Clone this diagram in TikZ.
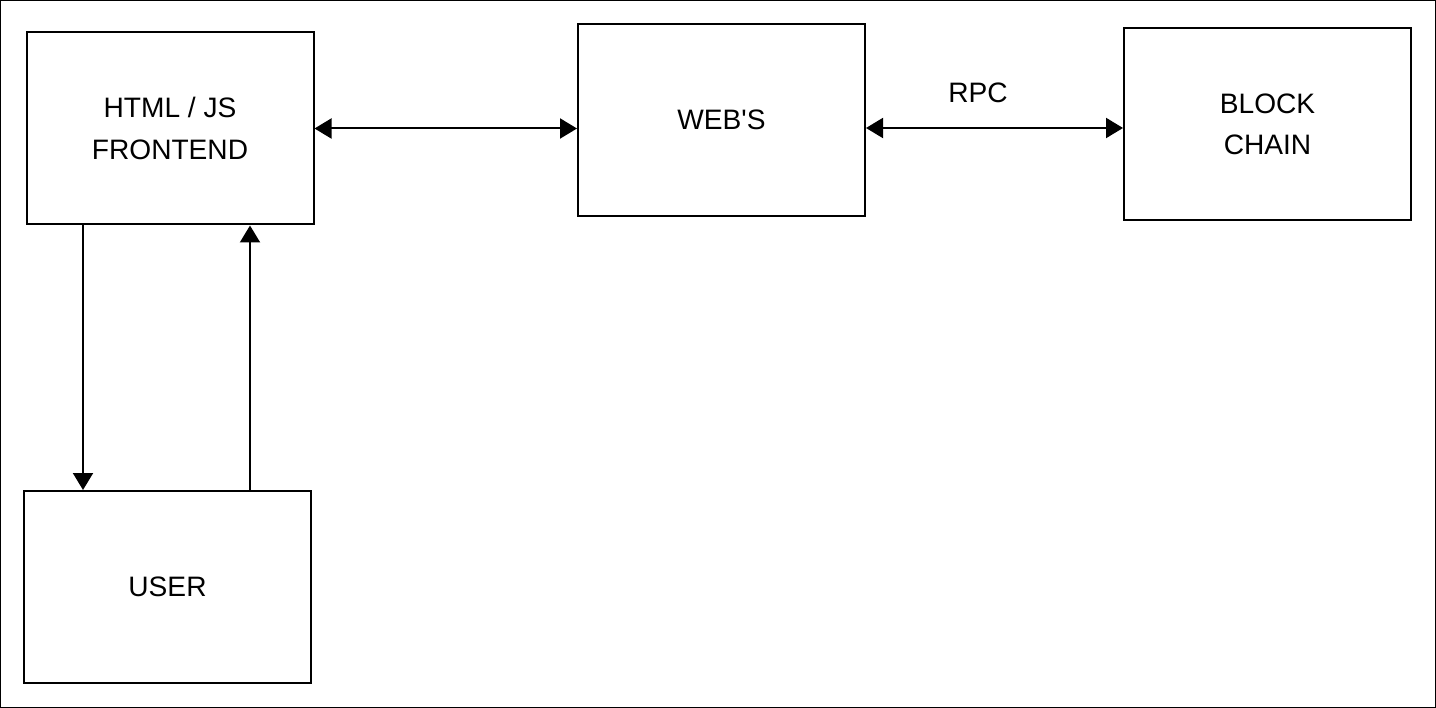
\documentclass[tikz,border=0pt]{standalone}
\usepackage{fontspec}
\setmainfont{Liberation Sans}
\usetikzlibrary{arrows.meta}
\begin{document}
\begin{tikzpicture}[
	box/.style={draw, line width=0.02cm, minimum width=2.87cm, minimum height=1.92cm, align=center, inner sep=0pt},
	link/.style={line width=0.02cm, -{Triangle[length=1.7mm, width=2.0mm]}},
	both/.style={line width=0.02cm, {Triangle[length=1.7mm, width=2.0mm]}-{Triangle[length=1.7mm, width=2.0mm]}},
	font=\fontsize{8}{11.7}\selectfont]
	%\draw[help lines] (0,-7.08) grid (14.36,0);
	\draw [line width=0.01cm, use as bounding box] (0.005, -0.005) rectangle (14.355, -7.075);
	
	\node [box] (html) at (1.70, -1.285) {HTML / JS\\FRONTEND};
	\node [box] (web) at (7.215, -1.20) {WEB\textquotesingle S};
	\node [box] (chain) at (12.675, -1.24) {BLOCK\\CHAIN};
	\node [box] (user) at (1.675, -5.87) {USER};
	
	\node (rpc) at (9.78, -0.93) {RPC};
	
	\draw [both] (html.east) -- (html.east -| web.west);
	\draw [both] ([yshift=-0.08cm]web.east) -- ([yshift=-0.08cm]web.east -| chain.west);
	\draw [link] ([xshift=0.575cm]html.south west) -- ([xshift=0.575cm]html.south west |- user.north);
	\draw [link] ([xshift=2.245cm]html.south west |- user.north) -- ([xshift=2.245cm]html.south west);
\end{tikzpicture}
\end{document}
